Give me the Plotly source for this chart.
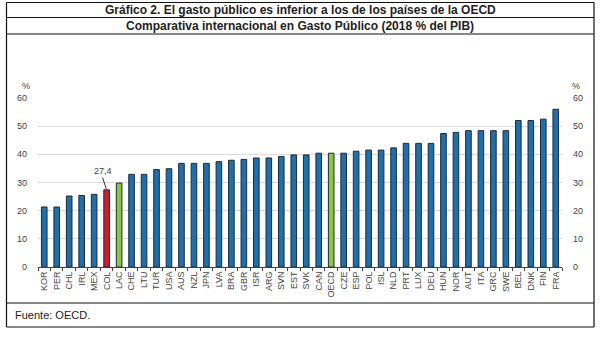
import plotly.graph_objects as go

categories = ["KOR","PER","CHL","IRL","MEX","COL","LAC","CHE","LTU","TUR","USA","AUS","NZL",
              "JPN","LVA","BRA","GBR","ISR","ARG","SVN","EST","SVK","CAN","OECD","CZE","ESP",
              "POL","ISL","NLD","PRT","LUX","DEU","HUN","NOR","AUT","ITA","GRC","SWE","BEL",
              "DNK","FIN","FRA"]
values = [21.3,21.3,25.2,25.4,25.8,27.4,29.8,32.9,32.9,34.6,34.9,36.8,36.8,
          36.8,37.4,37.9,38.2,38.7,38.7,39.2,39.8,39.8,40.4,40.4,40.4,41.1,
          41.5,41.5,42.3,43.9,43.9,43.9,47.4,47.8,48.4,48.4,48.4,48.4,52.0,
          52.0,52.5,56.0]
yticks = [0,10,20,30,40,50,60]

BLUE = "#1f6faa"
RED = "#c8202e"
GREEN = "#8cc63f"
colors = [RED if c == "COL" else GREEN if c in ("LAC","OECD") else BLUE for c in categories]

W, H = 603, 337
L, R, T, B = 38, 562, 98, 267  # plot area in pixels

def px(x):
    return (x - L) / (R - L)

def py(y):
    return (B - y) / (B - T)

fig = go.Figure()
fig.add_trace(go.Bar(x=categories, y=values, marker=dict(color=colors, line=dict(color="#1b2b3b", width=1)),
                     width=0.45, showlegend=False, hoverinfo="x+y"))
fig.add_trace(go.Bar(x=categories, y=values, yaxis="y2", opacity=0, showlegend=False, hoverinfo="skip"))

axfont = dict(family="Liberation Sans, Arial, sans-serif", size=9, color="#444444")
fig.update_layout(
    width=W, height=H,
    margin=dict(l=L, r=W - R, t=T, b=H - B, pad=0),
    paper_bgcolor="white", plot_bgcolor="white",
    barmode="overlay",
    xaxis=dict(type="category", range=[-0.5, len(categories) - 0.5], tickangle=-90,
               tickfont=axfont, showline=True, linecolor="#444444", linewidth=1,
               ticks="outside", ticklen=3, tickcolor="#444444", tickson="boundaries",
               showgrid=False, fixedrange=True),
    yaxis=dict(range=[0, 60], tickvals=yticks, tickfont=axfont, showgrid=True,
               gridcolor="#dcdcdc", gridwidth=1, zeroline=False, showline=False,
               ticks="", ticklabelstandoff=10, fixedrange=True),
    yaxis2=dict(range=[0, 60], tickvals=yticks, tickfont=axfont, overlaying="y", side="right",
                showgrid=False, zeroline=False, showline=False, ticks="", ticklabelstandoff=10,
                fixedrange=True),
)

# Title rows and frame
titlefont = dict(family="Liberation Sans, Arial, sans-serif", size=12, color="#222222")
fig.add_annotation(text="<b>Gráfico 2. El gasto público es inferior a los de los países de la OECD</b>",
                   xref="paper", yref="paper", x=px(300), y=py(10), showarrow=False,
                   font=titlefont, xanchor="center", yanchor="middle")
fig.add_annotation(text="<b>Comparativa internacional en Gasto Público (2018 % del PIB)</b>",
                   xref="paper", yref="paper", x=px(300), y=py(26), showarrow=False,
                   font=titlefont, xanchor="center", yanchor="middle")
fig.add_annotation(text="Fuente: OECD.", xref="paper", yref="paper", x=px(13), y=py(315),
                   showarrow=False, xanchor="left", yanchor="middle",
                   font=dict(family="Liberation Sans, Arial, sans-serif", size=11, color="#222222"))
# % labels
for xp in (26, 576):
    fig.add_annotation(text="%", xref="paper", yref="paper", x=px(xp), y=py(86), showarrow=False,
                       xanchor="center", yanchor="middle", font=axfont)

# COL value label
col_idx = categories.index("COL")
fig.add_annotation(text="27,4", x=categories[col_idx], y=values[col_idx], xref="x", yref="y",
                   ax=-4, ay=-12, showarrow=True, arrowhead=0, arrowwidth=1, arrowcolor="#333333",
                   standoff=1, font=axfont, yanchor="bottom")

frame = dict(color="#111111", width=1.2)
for y in (2.5, 17.5, 34, 303, 327):
    fig.add_shape(type="line", xref="paper", yref="paper", x0=px(6.5), x1=px(594), y0=py(y), y1=py(y), line=frame)
for x in (6.5, 594):
    fig.add_shape(type="line", xref="paper", yref="paper", x0=px(x), x1=px(x), y0=py(2.5), y1=py(327), line=frame)

fig.write_html("out.html")
